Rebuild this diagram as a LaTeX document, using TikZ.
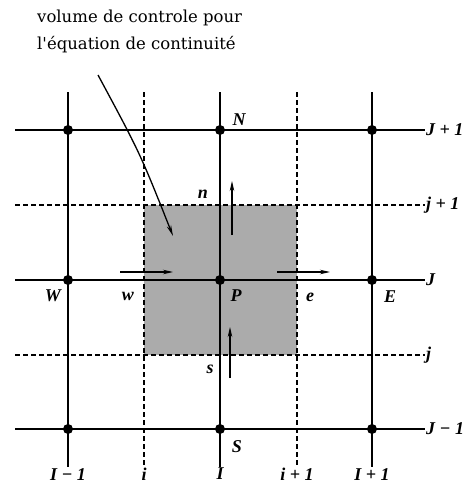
\documentclass[tikz,border=0pt]{standalone}
\usepackage{fontspec}
\setmainfont{Liberation Serif}
\newfontfamily\notefont{DejaVu Serif}
\usetikzlibrary{arrows.meta,positioning}
\definecolor{cvgrey}{HTML}{ABABAB}
\tikzset{
  mainline/.style = {draw=black, line width=1.6pt},
  faceline/.style = {draw=black, line width=1.4pt, dash pattern=on 5pt off 3pt},
  gridpt/.style   = {circle, fill=black, inner sep=0pt, minimum size=10pt},
  lbl/.style      = {font=\fontsize{18}{20}\selectfont\bfseries\itshape, inner sep=1pt},
  flux/.style     = {-{Stealth[length=10pt,width=4.5pt]}, line width=1.3pt},
  pointer/.style  = {-{Stealth[length=11pt,width=4.5pt]}, line width=1.3pt},
}

\begin{document}
\begin{tikzpicture}[x=1pt,y=-1pt]
  \useasboundingbox (0,0) rectangle (467,487);
  % control volume
  \fill[cvgrey] (144,205) rectangle (297,355);
  % scalar grid lines
  \foreach \x/\nm/\txt in {68/Im/{I − 1}, 220/Ic/I, 372/Ip/{I + 1}}{
    \coordinate (top\nm) at (\x,92);
    \node[lbl,anchor=north] (bot\nm) at (\x,467) {\txt};
    \draw[mainline] (top\nm) -- (bot\nm.north);
  }
  \foreach \y/\nm/\txt in {130/Jp/{J + 1}, 280/Jc/J, 429/Jm/{J − 1}}{
    \coordinate (left\nm) at (15,\y);
    \node[lbl,anchor=west] (end\nm) at (425,\y) {\txt};
    \draw[mainline] (left\nm) -- (end\nm.west);
  }
  % velocity grid lines
  \foreach \x/\nm/\txt in {144/ia/i, 297/ib/{i + 1}}{
    \coordinate (top\nm) at (\x,92);
    \node[lbl,anchor=north] (bot\nm) at (\x,467) {\txt};
    \draw[faceline] (top\nm) -- (bot\nm.north);
  }
  \foreach \y/\nm/\txt in {205/jb/{j + 1}, 355/ja/j}{
    \coordinate (left\nm) at (15,\y);
    \node[lbl,anchor=west] (end\nm) at (425,\y) {\txt};
    \draw[faceline] (left\nm) -- (end\nm.west);
  }
  % nodes
  \foreach \x/\y/\nm in {68/130/NW, 220/130/N, 372/130/NE,
                         68/280/W, 220/280/P, 372/280/E,
                         68/429/SW, 220/429/S, 372/429/SE}
    \node[gridpt] (\nm) at (\x,\y) {};
  \node[lbl] (lN) at (239,120) {N};
  \node[lbl] (lW) at (53,296) {W};
  \node[lbl] (lP) at (236,296) {P};
  \node[lbl] (lE) at (390,297) {E};
  \node[lbl] (lS) at (237,447) {S};
  \node[lbl] (lw) at (128,296) {w};
  \node[lbl] (le) at (310,297) {e};
  \node[lbl] (ln) at (203,194) {n};
  \node[lbl] (ls) at (210,369) {s};
  % face velocities
  \coordinate (wa) at (120,272); \coordinate (wb) at (173,272);
  \coordinate (ea) at (277,272); \coordinate (eb) at (330,272);
  \coordinate (na) at (232,235); \coordinate (nb) at (232,181);
  \coordinate (sa) at (230,378); \coordinate (sb) at (230,327);
  \draw[flux] (wa) -- (wb);
  \draw[flux] (ea) -- (eb);
  \draw[flux] (na) -- (nb);
  \draw[flux] (sa) -- (sb);
  % note
  \node[anchor=north west, align=left, inner sep=0pt,
        font=\notefont\fontsize{16.5}{27}\selectfont] (cvnote) at (37,10)
        {volume de controle pour\\l'équation de continuité};
  \coordinate (ptrfoot) at (98,75);
  \coordinate (ptrbow) at (140,153);
  \coordinate (ptrhead) at (173,236);
  \draw[pointer] (ptrfoot) .. controls (ptrbow) .. (ptrhead);
\end{tikzpicture}
\end{document}
